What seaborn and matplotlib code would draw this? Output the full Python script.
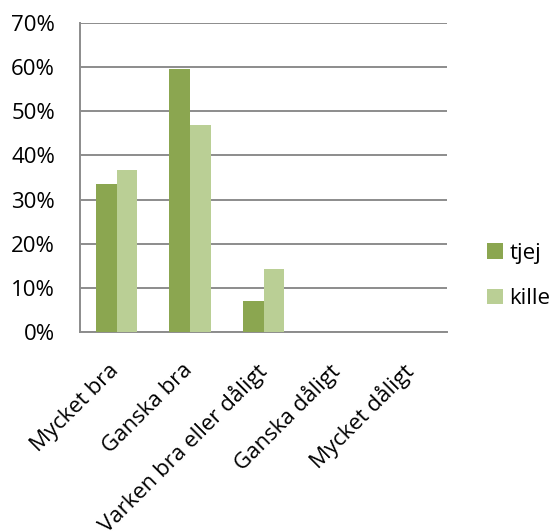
import matplotlib
matplotlib.use("Agg")
import matplotlib.pyplot as plt
import matplotlib.transforms as mtransforms
import seaborn as sns
import pandas as pd

categories = ["Mycket bra", "Ganska bra", "Varken bra eller dåligt", "Ganska dåligt", "Mycket dåligt"]
tjej = [33.5, 59.6, 7.0, 0, 0]
kille = [36.7, 46.9, 14.3, 0, 0]
series_names = ["tjej", "kille"]
yticks = [0, 10, 20, 30, 40, 50, 60, 70]
ytick_labels = ["0%", "10%", "20%", "30%", "40%", "50%", "60%", "70%"]

df = pd.DataFrame({
    "cat": categories * 2,
    "val": tjej + kille,
    "kön": [series_names[0]] * 5 + [series_names[1]] * 5,
})

sns.set_style("white")
plt.rcParams["font.family"] = ["Open Sans", "DejaVu Sans"]
plt.rcParams["text.color"] = "black"

fig = plt.figure(figsize=(5.55, 5.32), dpi=100)
ax = fig.add_axes([80 / 555, 1 - 332 / 532, 367 / 555, 309 / 532])

sns.barplot(data=df, x="cat", y="val", hue="kön", order=categories,
            hue_order=series_names, palette=["#8BA650", "#BACF95"],
            width=0.565, saturation=1, ax=ax, zorder=3, legend=True,
            linewidth=0, edgecolor="none")

ax.set_ylim(0, 70)
ax.set_xlim(-0.5, 4.5)
ax.set_yticks(yticks)
ax.set_yticklabels(ytick_labels, fontsize=16, color="black")
ax.yaxis.grid(True, color="#8c8c8c", linewidth=1.4, zorder=0)
ax.set_axisbelow(True)
ax.set_xlabel("")
ax.set_ylabel("")
ax.tick_params(axis="y", length=0, pad=18)
ax.tick_params(axis="x", length=0, pad=20)
ax.set_xticks(range(len(categories)))
ax.set_xticklabels(categories, rotation=45, ha="right", rotation_mode="anchor",
                   fontsize=16, color="black")
offset = mtransforms.ScaledTranslation(-8 / 100, 0, fig.dpi_scale_trans)
for lbl in ax.get_xticklabels():
    lbl.set_transform(lbl.get_transform() + offset)
for s in ["top", "right"]:
    ax.spines[s].set_visible(False)
for s in ["left", "bottom"]:
    ax.spines[s].set_color("#8c8c8c")
    ax.spines[s].set_linewidth(1.4)

leg = ax.legend(loc="center left", bbox_to_anchor=(487 / 555, 1 - 276 / 532),
                bbox_transform=fig.transFigure, frameon=False, borderpad=0,
                borderaxespad=0, fontsize=16, handlelength=0.7, handleheight=0.7,
                handletextpad=0.3, labelspacing=1.1)

fig.savefig("out.png", dpi=100)
